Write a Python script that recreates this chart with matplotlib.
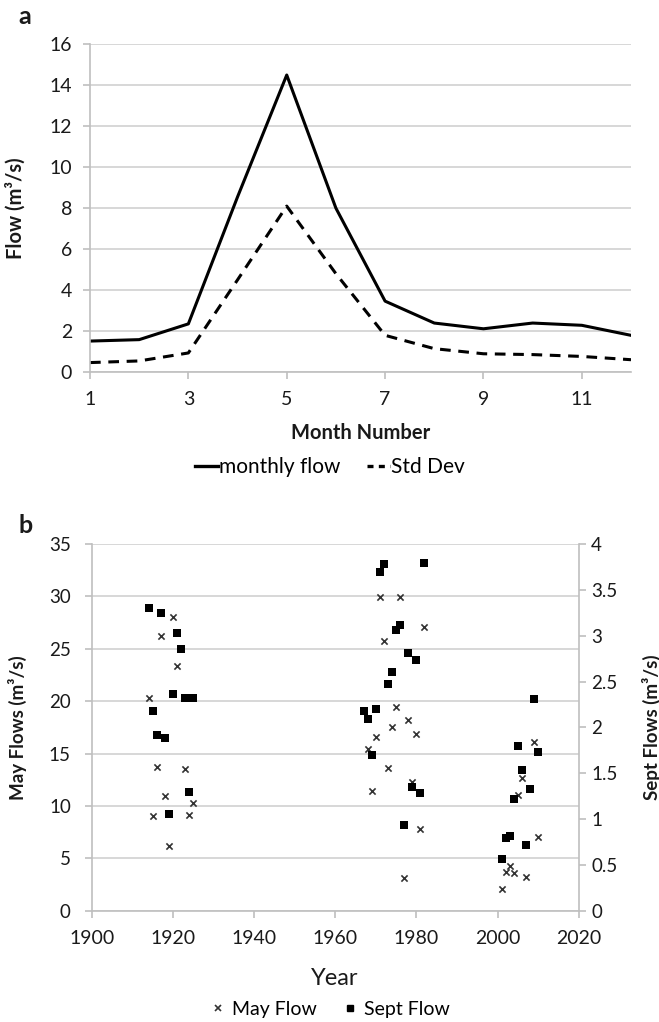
import matplotlib
matplotlib.use("Agg")
import matplotlib.pyplot as plt
from matplotlib.lines import Line2D
from matplotlib.ticker import FuncFormatter

plt.rcParams["font.family"] = ["Lato", "DejaVu Sans"]

# panel a: mean monthly flow and its standard deviation
months = list(range(1, 13))
monthly_flow = [1.51, 1.58, 2.35, 8.55, 14.5, 8.0, 3.46, 2.39, 2.11, 2.39, 2.28, 1.79]
std_dev = [0.46, 0.54, 0.93, 4.5, 8.1, 4.8, 1.79, 1.14, 0.89, 0.85, 0.76, 0.60]

# panel b: May flows (left axis) and September flows (right axis)
may_years = [1914, 1915, 1916, 1917, 1918, 1919, 1920, 1921, 1923, 1924, 1925,
             1968, 1969, 1970, 1971, 1972, 1973, 1974, 1975, 1976, 1977, 1978,
             1979, 1980, 1981, 1982,
             2001, 2002, 2003, 2004, 2005, 2006, 2007, 2009, 2010]
may_flow = [20.3, 9.0, 13.7, 26.2, 10.9, 6.2, 28.0, 23.4, 13.5, 9.1, 10.3,
            15.4, 11.4, 16.6, 29.9, 25.7, 13.6, 17.5, 19.4, 29.9, 3.15, 18.2,
            12.3, 16.9, 7.8, 27.1,
            2.1, 3.73, 4.3, 3.57, 11.05, 12.7, 3.25, 16.1, 7.07]
sept_years = [1914, 1915, 1916, 1917, 1918, 1919, 1920, 1921, 1922, 1923, 1924, 1925,
              1967, 1968, 1969, 1970, 1971, 1972, 1973, 1974, 1975, 1976, 1977,
              1978, 1979, 1980, 1981, 1982,
              2001, 2002, 2003, 2004, 2005, 2006, 2007, 2008, 2009, 2010]
sept_flow = [3.30, 2.18, 1.92, 3.25, 1.88, 1.06, 2.36, 3.03, 2.86, 2.32, 1.29, 2.32,
             2.18, 2.09, 1.70, 2.20, 3.70, 3.78, 2.47, 2.60, 3.06, 3.12, 0.94,
             2.81, 1.35, 2.73, 1.28, 3.79,
             0.56, 0.79, 0.81, 1.22, 1.80, 1.53, 0.72, 1.33, 2.31, 1.73]

GRID = "#d4d4d4"
AXC = "#bfbfbf"
TXT = "#1a1a1a"

W, H = 659, 1022
fig = plt.figure(figsize=(W / 100, H / 100), dpi=100)


def rect(x0, y0, x1, y1):
    # pixel box (top-left origin) -> figure fraction
    return [x0 / W, 1 - y1 / H, (x1 - x0) / W, (y1 - y0) / H]


def excel_style(ax):
    ax.grid(axis="y", color=GRID, linewidth=1.3)
    ax.set_axisbelow(True)
    for s in ["top", "right"]:
        ax.spines[s].set_visible(False)
    ax.spines["left"].set_color(AXC)
    ax.spines["bottom"].set_color(AXC)
    ax.spines["left"].set_linewidth(1.2)
    ax.spines["bottom"].set_linewidth(1.2)
    ax.tick_params(colors=AXC, labelcolor=TXT, labelsize=14, length=5, width=1.2)
    ax.tick_params(axis="y", pad=8)
    ax.tick_params(axis="x", pad=9)


# ---------------- panel a ----------------
ax1 = fig.add_axes(rect(90, 44.3, 631, 372))
excel_style(ax1)
ax1.plot(months, monthly_flow, color="black", linewidth=2.2, label="monthly flow")
ax1.plot(months, std_dev, color="black", linewidth=2.2, dashes=(3.5, 2.5), label="Std Dev")
ax1.set_xlim(1, 12)
ax1.set_ylim(0, 16)
ax1.set_yticks(range(0, 17, 2))
ax1.set_xticks([1, 3, 5, 7, 9, 11])
ax1.set_ylabel("Flow (m³/s)", fontsize=14.5, fontweight="bold", color=TXT)
ax1.yaxis.set_label_coords(-0.118, 0.5)
ax1.set_xlabel("Month Number", fontsize=14.5, fontweight="bold", color=TXT)
ax1.xaxis.set_label_coords(0.5, -0.155)
fig.text(18 / W, 1 - 16 / H, "a", fontsize=18, fontweight="bold", va="center", color=TXT)

handles_a = [Line2D([], [], color="black", linewidth=2.4),
             Line2D([], [], color="black", linewidth=2.4, dashes=(1.8, 1.6))]
fig.legend(handles_a, ["monthly flow", "Std Dev"], loc="center",
           bbox_to_anchor=(330 / W, 1 - 467 / H), ncol=2, frameon=False,
           fontsize=15, handlelength=1.1, handletextpad=0.05, columnspacing=1.3)

# ---------------- panel b ----------------
ax2 = fig.add_axes(rect(91.7, 544, 578.7, 910.7))
excel_style(ax2)
ax2.scatter(may_years, may_flow, marker="x", s=20, color="#333333", linewidths=1.2, zorder=3)
ax2.set_xlim(1900, 2020)
ax2.set_ylim(0, 35)
ax2.set_yticks(range(0, 36, 5))
ax2.set_xticks(range(1900, 2021, 20))
ax2.tick_params(axis="y", labelsize=13.5, pad=10)
ax2.set_ylabel("May Flows (m³/s)", fontsize=13.5, fontweight="bold", color=TXT)
ax2.yaxis.set_label_coords(-0.133, 0.5)
ax2.set_xlabel("Year", fontsize=17, color=TXT)
ax2.xaxis.set_label_coords(0.5, -0.157)

ax3 = ax2.twinx()
ax3.scatter(sept_years, sept_flow, marker="s", s=26, color="black", linewidths=0, zorder=4)
ax3.set_ylim(0, 4)
ax3.set_yticks([i * 0.5 for i in range(9)])
ax3.yaxis.set_major_formatter(FuncFormatter(lambda v, p: f"{v:g}"))
for s in ["top", "left", "bottom"]:
    ax3.spines[s].set_visible(False)
ax3.spines["right"].set_color(AXC)
ax3.spines["right"].set_linewidth(1.2)
ax3.tick_params(colors=AXC, labelcolor=TXT, labelsize=13.5, length=5, width=1.2, pad=4)
ax3.set_ylabel("Sept Flows (m³/s)", fontsize=13.5, fontweight="bold", color=TXT)
ax3.yaxis.set_label_coords(1.13, 0.5)
fig.text(18 / W, 1 - 525 / H, "b", fontsize=18, fontweight="bold", va="center", color=TXT)

handles_b = [Line2D([], [], linestyle="none", marker="x", markersize=4, color="#333333",
                    markeredgewidth=1.2),
             Line2D([], [], linestyle="none", marker="s", markersize=4, color="black")]
fig.legend(handles_b, ["May Flow", "Sept Flow"], loc="center",
           bbox_to_anchor=(330 / W, 1 - 1009 / H), ncol=2, frameon=False,
           fontsize=14, handlelength=0.8, handletextpad=0.3, columnspacing=1.3)

fig.savefig("out.png", dpi=100)
